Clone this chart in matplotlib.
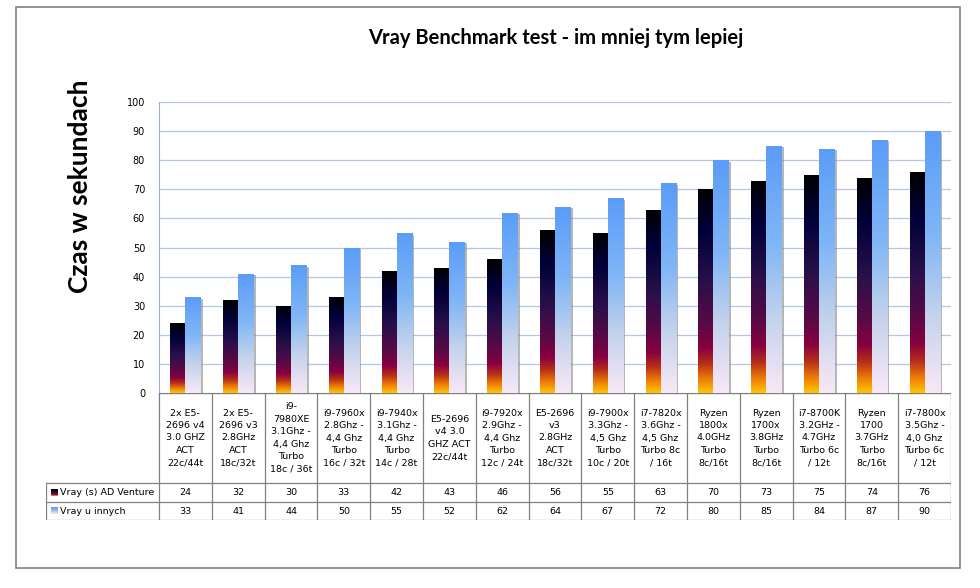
import numpy as np
import matplotlib.pyplot as plt
from matplotlib.colors import LinearSegmentedColormap
from matplotlib.patches import Rectangle
import matplotlib.patheffects as pe

tytul = "Vray Benchmark test - im mniej tym lepiej"
os_y = "Czas w sekundach"
serie = ["Vray (s) AD Venture", "Vray u innych"]

procesory = [
    "2x E5-\n2696 v4\n3.0 GHZ\nACT\n22c/44t",
    "2x E5-\n2696 v3\n2.8GHz\nACT\n18c/32t",
    "i9-\n7980XE\n3.1Ghz -\n4,4 Ghz\nTurbo\n18c / 36t",
    "i9-7960x\n2.8Ghz -\n4,4 Ghz\nTurbo\n16c / 32t",
    "i9-7940x\n3.1Ghz -\n4,4 Ghz\nTurbo\n14c / 28t",
    "E5-2696\nv4 3.0\nGHZ ACT\n22c/44t",
    "i9-7920x\n2.9Ghz -\n4,4 Ghz\nTurbo\n12c / 24t",
    "E5-2696\nv3\n2.8GHz\nACT\n18c/32t",
    "i9-7900x\n3.3Ghz -\n4,5 Ghz\nTurbo\n10c / 20t",
    "i7-7820x\n3.6Ghz -\n4,5 Ghz\nTurbo 8c\n/ 16t",
    "Ryzen\n1800x\n4.0GHz\nTurbo\n8c/16t",
    "Ryzen\n1700x\n3.8GHz\nTurbo\n8c/16t",
    "i7-8700K\n3.2GHz -\n4.7GHz\nTurbo 6c\n/ 12t",
    "Ryzen\n1700\n3.7GHz\nTurbo\n8c/16t",
    "i7-7800x\n3.5Ghz -\n4,0 Ghz\nTurbo 6c\n/ 12t",
]
ad_venture = [24, 32, 30, 33, 42, 43, 46, 56, 55, 63, 70, 73, 75, 74, 76]
inni = [33, 41, 44, 50, 55, 52, 62, 64, 67, 72, 80, 85, 84, 87, 90]

# gradienty (od gory do dolu)
cm_ciemny = LinearSegmentedColormap.from_list("noc", [
    (0.0, "#000000"), (0.2, "#000038"), (0.45, "#28104a"), (0.65, "#560a46"),
    (0.78, "#880040"), (0.86, "#b83018"), (0.93, "#ec7a08"), (1.0, "#ffc400")])
cm_niebieski = LinearSegmentedColormap.from_list("niebo", [
    (0.0, "#5a9cf8"), (0.4, "#80b6f6"), (0.7, "#c4d2ec"), (1.0, "#f8e8f6")])
gradient = np.linspace(0, 1, 256).reshape(-1, 1)

W, H = 980, 588
fig = plt.figure(figsize=(9.8, 5.88), dpi=100)


def px(l, t, r, b):
    return [l / W, 1 - b / H, (r - l) / W, (b - t) / H]


# ramka wykresu
fig.add_artist(Rectangle((16 / W, 1 - 568 / H), 944 / W, 561 / H, transform=fig.transFigure,
                         fill=False, edgecolor="#7f7f7f", linewidth=1.2))

fig.text(556 / W, 1 - 38 / H, tytul, ha="center", va="center", fontsize=14.5,
         fontweight="bold", family="Lato")
fig.text(80 / W, 1 - 186 / H, os_y, ha="center", va="center", rotation=90,
         fontsize=19, fontweight="bold", family="Lato")

ax = fig.add_axes(px(159, 102, 951, 393))
n = len(procesory)
x = np.arange(n)
szer = 0.285
cien = [pe.SimplePatchShadow(offset=(1.8, -1.2), shadow_rgbFace="#888888", alpha=0.6), pe.Normal()]
for wartosci, cmap, przes in [(ad_venture, cm_ciemny, -szer / 2), (inni, cm_niebieski, szer / 2)]:
    slupki = ax.bar(x + przes, wartosci, szer, color=cmap(0.0), zorder=3, path_effects=cien)
    for s in slupki:
        x0, w, h = s.get_x(), s.get_width(), s.get_height()
        im = ax.imshow(gradient, cmap=cmap, extent=(x0, x0 + w, 0, h), aspect="auto",
                       origin="upper", zorder=4, interpolation="bilinear")
        im.set_clip_path(s)

ax.set_xlim(-0.5, n - 0.5)
ax.set_ylim(0, 100)
ax.set_yticks(range(0, 101, 10))
ax.set_xticks([])
ax.tick_params(axis="y", length=0, pad=10, labelsize=7)
ax.grid(axis="y", color="#b4c7e7", linewidth=0.9, zorder=0)
ax.set_axisbelow(True)
for k in ["top", "right", "bottom"]:
    ax.spines[k].set_visible(False)
ax.spines["left"].set_color("#9aaed0")

# tabela danych
tab = fig.add_axes(px(46, 393, 951, 520))
lewo = -0.5 - 113 / 52.8
tab.set_xlim(lewo, n - 0.5)
tab.set_ylim(127, 0)
tab.axis("off")
kol = "#808080"
tab.plot([-0.5, n - 0.5], [0, 0], color=kol, lw=1.0)
for yy in [90, 109, 127]:
    tab.plot([lewo, n - 0.5], [yy, yy], color=kol, lw=0.9)
tab.plot([lewo, lewo], [90, 127], color=kol, lw=0.9)
for k in range(n + 1):
    tab.plot([k - 0.5, k - 0.5], [0, 127], color=kol, lw=0.9)

for i in range(n):
    tab.text(i, 45, procesory[i], ha="center", va="center", fontsize=6.8,
             linespacing=1.5, family="DejaVu Sans")
    tab.text(i, 99.5, str(ad_venture[i]), ha="center", va="center", fontsize=6.8)
    tab.text(i, 118, str(inni[i]), ha="center", va="center", fontsize=6.8)

for nazwa, cmap, yy in [(serie[0], cm_ciemny, 99.5), (serie[1], cm_niebieski, 118)]:
    x0 = lewo + 5 / 52.8
    tab.imshow(gradient, cmap=cmap, extent=(x0, x0 + 7 / 52.8, yy + 3.5, yy - 3.5),
               aspect="auto", origin="upper", interpolation="bilinear")
    tab.text(lewo + 14 / 52.8, yy, nazwa, ha="left", va="center", fontsize=6.8)
tab.set_xlim(lewo, n - 0.5)
tab.set_ylim(127, 0)

fig.savefig("out.png", dpi=100)
